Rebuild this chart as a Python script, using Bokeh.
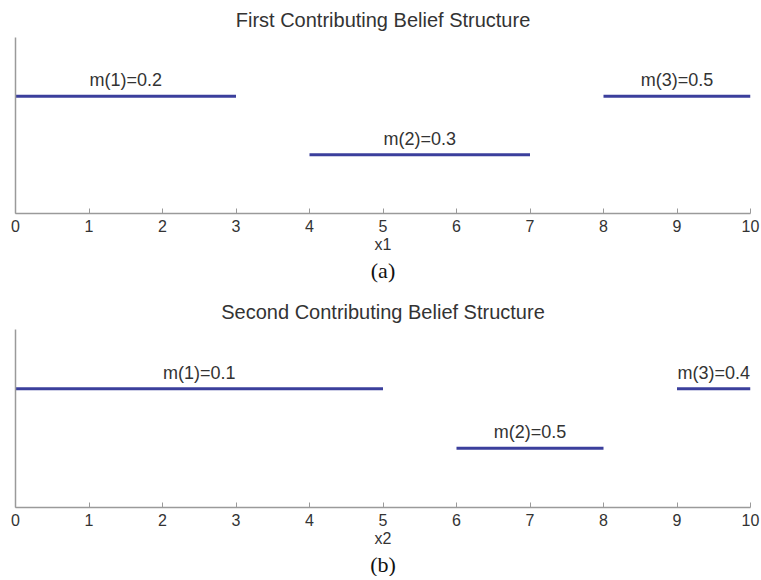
from bokeh.plotting import figure
from bokeh.layouts import column
from bokeh.models import ColumnDataSource, Range1d, FixedTicker, Title, LabelSet
from bokeh.core.properties import value
from bokeh.embed import file_html
from bokeh.resources import INLINE

# Data
titles = ["First Contributing Belief Structure", "Second Contributing Belief Structure"]
xlabels = ["x1", "x2"]
captions = ["(a)", "(b)"]
starts_a = [0, 4, 8]
ends_a = [3, 7, 10]
levels_a = [2, 1, 2]
labels_a = ["m(1)=0.2", "m(2)=0.3", "m(3)=0.5"]
starts_b = [0, 6, 9]
ends_b = [5, 8, 10]
levels_b = [2, 1, 2]
labels_b = ["m(1)=0.1", "m(2)=0.5", "m(3)=0.4"]
x_ticks = [0, 1, 2, 3, 4, 5, 6, 7, 8, 9, 10]

LINE = "#3b3f9c"
AXIS = "#9a9a9a"
TEXT = "#333333"
FONT = "Liberation Sans"


def panel(title, xlabel, caption, starts, ends, levels, labels, frame_h, bottom):
    p = figure(width=761, frame_width=735, frame_height=frame_h,
               x_range=Range1d(0, 10), y_range=Range1d(0, 3),
               output_backend="svg", toolbar_location=None,
               min_border_left=15, min_border_right=11, min_border_top=0,
               min_border_bottom=bottom)
    p.title.text = title
    p.title.align = "center"
    p.title.text_font = FONT
    p.title.text_font_size = "20px"
    p.title.text_font_style = "normal"
    p.title.text_color = TEXT
    p.title.standoff = 13
    p.grid.visible = False
    p.outline_line_color = None
    p.background_fill_color = "white"
    p.border_fill_color = "white"

    src = ColumnDataSource(dict(x0=starts, x1=ends, y=levels, lab=labels,
                                xm=[(a + b) / 2 for a, b in zip(starts, ends)]))
    p.segment(x0="x0", y0="y", x1="x1", y1="y", source=src, line_color=LINE, line_width=3)
    p.add_layout(LabelSet(x="xm", y="y", text="lab", source=src, text_align="center",
                          text_baseline="bottom", y_offset=6, text_font=value(FONT),
                          text_font_size=value("18px"), text_color=value(TEXT)))

    xa = p.xaxis[0]
    xa.ticker = FixedTicker(ticks=x_ticks)
    xa.axis_line_color = AXIS
    xa.axis_line_width = 1.5
    xa.major_tick_line_color = AXIS
    xa.major_tick_in = 5
    xa.major_tick_out = 0
    xa.minor_tick_line_color = None
    xa.major_label_text_font = FONT
    xa.major_label_text_font_size = "16px"
    xa.major_label_text_color = TEXT
    xa.major_label_standoff = 6
    xa.axis_label = xlabel
    xa.axis_label_text_font = FONT
    xa.axis_label_text_font_size = "16px"
    xa.axis_label_text_font_style = "normal"
    xa.axis_label_text_color = TEXT
    xa.axis_label_standoff = 1

    ya = p.yaxis[0]
    ya.ticker = FixedTicker(ticks=[])
    ya.axis_line_color = AXIS
    ya.axis_line_width = 1.5
    ya.major_tick_line_color = None
    ya.minor_tick_line_color = None
    ya.major_label_text_font_size = "0px"

    cap = Title(text=caption, align="center", text_font="Liberation Serif",
                text_font_size="22px", text_font_style="normal", text_color="#111111",
                standoff=0)
    p.add_layout(cap, "below")
    return p


pa = panel(titles[0], xlabels[0], captions[0], starts_a, ends_a, levels_a, labels_a, 176, 79)
pb = panel(titles[1], xlabels[1], captions[1], starts_b, ends_b, levels_b, labels_b, 178, 68)
layout = column(pa, pb, spacing=0)

open("out.html", "w").write(file_html(layout, INLINE))
